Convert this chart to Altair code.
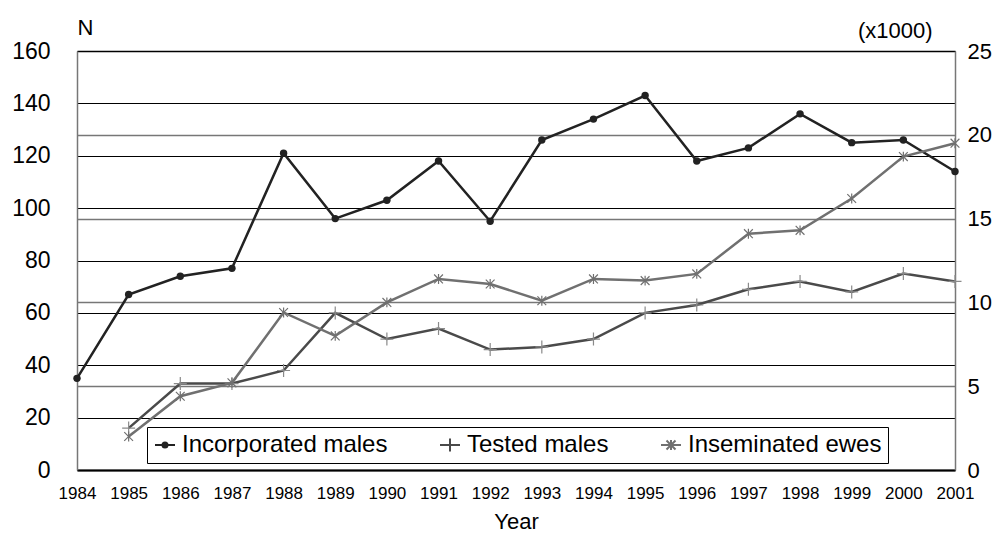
import altair as alt
import pandas as pd

# ---------------- data ----------------
years = list(range(1984, 2002))
incorporated = [35, 67, 74, 77, 121, 96, 103, 118, 95, 126, 134, 143, 118, 123, 136, 125, 126, 114]

tested_years = list(range(1985, 2002))
tested = [16, 33, 33, 38, 60, 50, 54, 46, 47, 50, 60, 63, 69, 72, 68, 75, 72]

ewes_years = list(range(1985, 2002))
ewes = [2.0, 4.4, 5.2, 9.4, 8.0, 10.0, 11.4, 11.1, 10.1, 11.4, 11.3, 11.7, 14.1, 14.3, 16.2, 18.7, 19.5]

series_names = ["Incorporated males", "Tested males", "Inseminated ewes"]
series_colors = ["#222222", "#4a4a4a", "#707070"]

left_ticks = [0, 20, 40, 60, 80, 100, 120, 140, 160]
right_ticks = [0, 5, 10, 15, 20, 25]

FONT = "Liberation Sans"

inc_df = pd.DataFrame({"Year": years, "N": incorporated})
tst_df = pd.DataFrame({"Year": tested_years, "N": tested})
ewe_df = pd.DataFrame({"Year": ewes_years, "K": ewes})
leg_df = pd.DataFrame({"Year": [1990, 1990, 1990], "N": [float("nan")] * 3, "series": series_names})

# ---------------- encodings ----------------
x_enc = alt.X(
    "Year:Q",
    scale=alt.Scale(domain=[1984, 2001], nice=False, zero=False),
    axis=alt.Axis(
        values=years, format="d", title="Year", labelFontSize=17, labelFlush=False,
        labelOverlap=False, ticks=False, labelPadding=15, domainColor="#000000",
        domainWidth=2, grid=False, titleFontSize=22, titleY=58, titleBaseline="alphabetic",
    ),
)

yL = alt.Y(
    "N:Q",
    scale=alt.Scale(domain=[0, 160], nice=False),
    axis=alt.Axis(
        orient="left", values=left_ticks, title="N", titleAngle=0, titleX=0, titleY=-17,
        titleAlign="left", titleBaseline="alphabetic", titleFontSize=22,
        labelFontSize=23, labelPadding=27, ticks=False, grid=True,
        gridColor="#000000", gridWidth=1, domainColor="#777777", domainWidth=1.5,
    ),
)

yR = alt.Y(
    "K:Q",
    scale=alt.Scale(domain=[0, 25], nice=False),
    axis=alt.Axis(
        orient="right", values=right_ticks, title="(x1000)", titleAngle=0, titleX=-23,
        titleY=-14, titleAlign="right", titleBaseline="alphabetic", titleFontSize=22,
        labelFontSize=22, labelPadding=12, ticks=False, grid=True,
        gridColor={"condition": {"test": "datum.value == 0 || datum.value == 25", "value": "#000000"},
                   "value": "#777777"},
        gridWidth=1.5, domainColor="#777777", domainWidth=1.5,
    ),
)

# ---------------- marks ----------------
inc_line = alt.Chart(inc_df).mark_line(color=series_colors[0], strokeWidth=2.5).encode(x=x_enc, y=yL)
inc_pts = alt.Chart(inc_df).mark_circle(color=series_colors[0], size=55, opacity=1).encode(x=x_enc, y=yL)

tst_line = alt.Chart(tst_df).mark_line(color=series_colors[1], strokeWidth=2.5).encode(x=x_enc, y=yL)
tst_pts = alt.Chart(tst_df).mark_point(
    shape="M-1,0L1,0M0,-1L0,1", size=169, color="#8a8a8a", strokeWidth=1.2, filled=False, opacity=1
).encode(x=x_enc, y=yL)

ewe_line = alt.Chart(ewe_df).mark_line(color=series_colors[2], strokeWidth=2.5).encode(x=x_enc, y=yR)
ewe_pts = alt.Chart(ewe_df).mark_point(
    shape="M-0.8,-0.8L0.8,0.8M-0.8,0.8L0.8,-0.8M0,-0.9L0,0.9", size=121, color=series_colors[2],
    strokeWidth=1.2, filled=False, opacity=1
).encode(x=x_enc, y=yR)

# legend symbols: line segment + marker
legend_paths = [
    "M-1,0L1,0M-0.25,0A0.25,0.25,0,1,0,0.25,0A0.25,0.25,0,1,0,-0.25,0"
    "M-0.08,0A0.08,0.08,0,1,0,0.08,0A0.08,0.08,0,1,0,-0.08,0",
    "M-1,0L1,0M0,-0.65L0,0.65",
    "M-1,0L1,0M-0.45,-0.45L0.45,0.45M-0.45,0.45L0.45,-0.45M0,-0.5L0,0.5",
]
pad1 = "\u00a0" * 5
pad3 = "\u00a0" * 7
legend = alt.Legend(
    title=None, orient="none", legendX=70, legendY=376, direction="horizontal", columns=3,
    columnPadding=48, symbolSize=400, symbolStrokeWidth=2, labelFontSize=24, labelFont=FONT,
    labelOffset=5, labelLimit=500, padding=6, strokeColor="#000000", fillColor="#ffffff",
    labelExpr=(
        f"datum.label + (datum.label == 'Incorporated males' ? '{pad1}' : "
        f"(datum.label == 'Inseminated ewes' ? '{pad3}' : ''))"
    ),
)
leg_layer = alt.Chart(leg_df).mark_point(filled=False, strokeWidth=2, opacity=1).encode(
    x=x_enc,
    y=yL,
    color=alt.Color("series:N", scale=alt.Scale(domain=series_names, range=series_colors), legend=legend),
    shape=alt.Shape("series:N", scale=alt.Scale(domain=series_names, range=legend_paths), legend=legend),
)

left = alt.layer(inc_line, tst_line, inc_pts, tst_pts, leg_layer)
right = alt.layer(ewe_line, ewe_pts)

chart = (
    alt.layer(left, right)
    .resolve_scale(y="independent")
    .properties(
        width=878, height=419,
        autosize=alt.AutoSizeParams(type="none"),
        padding={"left": 69, "top": 43, "right": 38, "bottom": 64},
        background="#ffffff",
    )
    .configure_view(stroke=None)
    .configure_axis(labelFont=FONT, titleFont=FONT, labelColor="#000000", titleColor="#000000",
                    titleFontWeight="normal")
)

chart.save("out.html", embed_options={"renderer": "svg", "actions": False})
